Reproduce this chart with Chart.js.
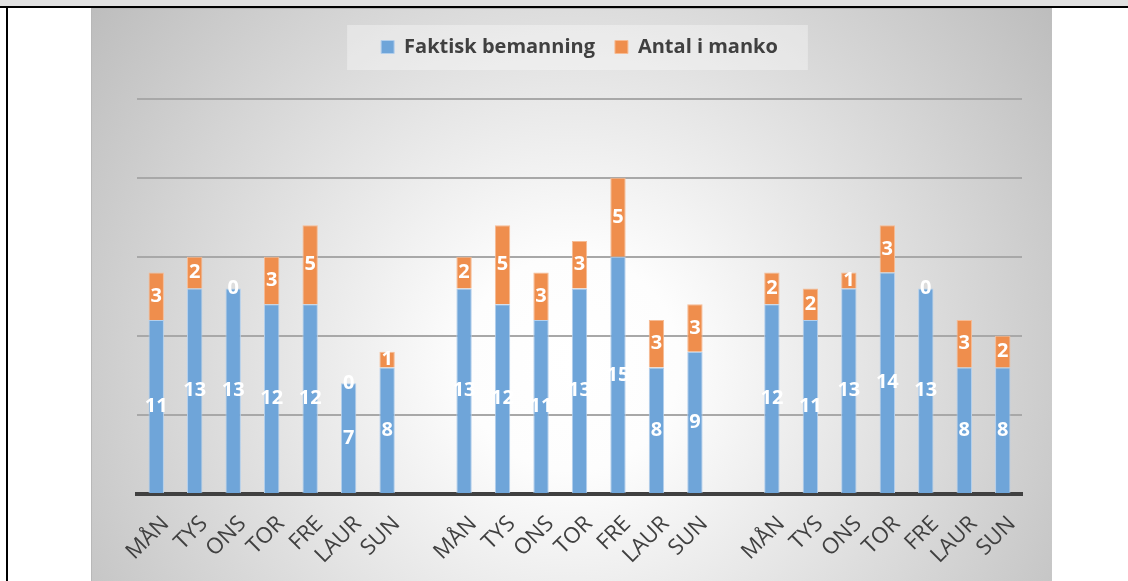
<!DOCTYPE html>
<html>
<head>
<meta charset="utf-8">
<script src="https://cdn.jsdelivr.net/npm/chart.js@4.4.1/dist/chart.umd.min.js"></script>
<style>
  html, body { margin: 0; padding: 0; background: #ffffff; }
  body { width: 1128px; height: 581px; position: relative; overflow: hidden; }
  #strip { position: absolute; left: 0; top: 0; width: 1128px; height: 6px; background: #e0e0e0; }
  #topline { position: absolute; left: 0; top: 6px; width: 1128px; height: 2px; background: #000; }
  #leftline { position: absolute; left: 6px; top: 6px; width: 2px; height: 575px; background: #000; }
  #chartbox {
    position: absolute; left: 91px; top: 8px; width: 961px; height: 573px;
    background: radial-gradient(circle farthest-corner at 50% 62%, #ffffff 0%, #fdfdfd 18%, #bdbdbd 100%);
    box-shadow: inset 1px 1px 0 #b8b8b8;
  }
</style>
</head>
<body>
<div id="strip"></div>
<div id="topline"></div>
<div id="leftline"></div>
<div id="chartbox"><canvas id="chart"></canvas></div>
<script>
// days, three weeks with a blank slot between them
var categories = ['MÅN', 'TYS', 'ONS', 'TOR', 'FRE', 'LAUR', 'SUN', '',
                  'MÅN', 'TYS', 'ONS', 'TOR', 'FRE', 'LAUR', 'SUN', '',
                  'MÅN', 'TYS', 'ONS', 'TOR', 'FRE', 'LAUR', 'SUN'];
var faktisk = [11, 13, 13, 12, 12, 7, 8, null,
               13, 12, 11, 13, 15, 8, 9, null,
               12, 11, 13, 14, 13, 8, 8];
var manko = [3, 2, 0, 3, 5, 0, 1, null,
             2, 5, 3, 3, 5, 3, 3, null,
             2, 2, 1, 3, 0, 3, 2];
var seriesNames = ['Faktisk bemanning', 'Antal i manko'];
var yMax = 27;
var yStep = 5;

var FONT = "'Open Sans', sans-serif";

// light box behind the legend
var legendBox = {
    id: 'legendBox',
    beforeDraw: function (chart) {
        var boxes = chart.legend && chart.legend.legendHitBoxes;
        if (!boxes || !boxes.length) return;
        var first = boxes[0], last = boxes[boxes.length - 1];
        var ctx = chart.ctx;
        ctx.save();
        ctx.fillStyle = 'rgba(255,255,255,0.35)';
        ctx.fillRect(first.left - 34, first.top - 12, (last.left + last.width) - first.left + 64, first.height + 25);
        ctx.restore();
    }
};

// white value labels in the middle of each segment
var valueLabels = {
    id: 'valueLabels',
    afterDatasetsDraw: function (chart) {
        var ctx = chart.ctx;
        ctx.save();
        ctx.font = 'bold 20px ' + FONT;
        ctx.fillStyle = '#ffffff';
        ctx.textAlign = 'center';
        ctx.textBaseline = 'middle';
        chart.data.datasets.forEach(function (ds, i) {
            var meta = chart.getDatasetMeta(i);
            meta.data.forEach(function (bar, j) {
                var v = ds.data[j];
                if (v === null || v === undefined) return;
                ctx.fillText(String(v), bar.x, (bar.y + bar.base) / 2);
            });
        });
        ctx.restore();
    }
};

var ctx = document.getElementById('chart').getContext('2d');
var chart = new Chart(ctx, {
    type: 'bar',
    data: {
        labels: categories,
        datasets: [
            {
                label: seriesNames[0],
                data: faktisk,
                backgroundColor: '#6fa5d9',
                borderColor: '#b3cfec',
                borderWidth: 1,
                barPercentage: 0.4,
                categoryPercentage: 1
            },
            {
                label: seriesNames[1],
                data: manko,
                backgroundColor: '#ef8e4d',
                borderColor: '#f6bb94',
                borderWidth: 1,
                barPercentage: 0.4,
                categoryPercentage: 1
            }
        ]
    },
    options: {
        responsive: true,
        maintainAspectRatio: false,
        animation: false,
        layout: { padding: { left: 46, right: 30, top: 9, bottom: 0 } },
        plugins: {
            legend: {
                position: 'top',
                labels: {
                    font: { family: FONT, size: 20, weight: 'bold' },
                    color: '#404040',
                    boxWidth: 13,
                    boxHeight: 13,
                    padding: 20
                }
            },
            tooltip: { enabled: false }
        },
        scales: {
            x: {
                stacked: true,
                grid: { display: false },
                border: { display: true, color: '#404040', width: 4 },
                ticks: {
                    font: { family: FONT, size: 22 },
                    color: '#404040',
                    maxRotation: 45,
                    minRotation: 45,
                    autoSkip: false,
                    padding: 9,
                    // keeps the label end on the tick instead of shifting it left
                    showLabelBackdrop: true,
                    backdropColor: 'rgba(0,0,0,0)',
                    backdropPadding: 0
                },
                afterFit: function (scale) { scale.height = 87; }
            },
            y: {
                stacked: true,
                min: 0,
                max: yMax,
                ticks: { display: false, stepSize: yStep, includeBounds: false },
                border: { display: false },
                grid: { color: '#a8a8a8', lineWidth: 2, drawTicks: false },
                afterFit: function (scale) { scale.width = 0; }
            }
        }
    },
    plugins: [legendBox, valueLabels]
});
</script>
</body>
</html>
